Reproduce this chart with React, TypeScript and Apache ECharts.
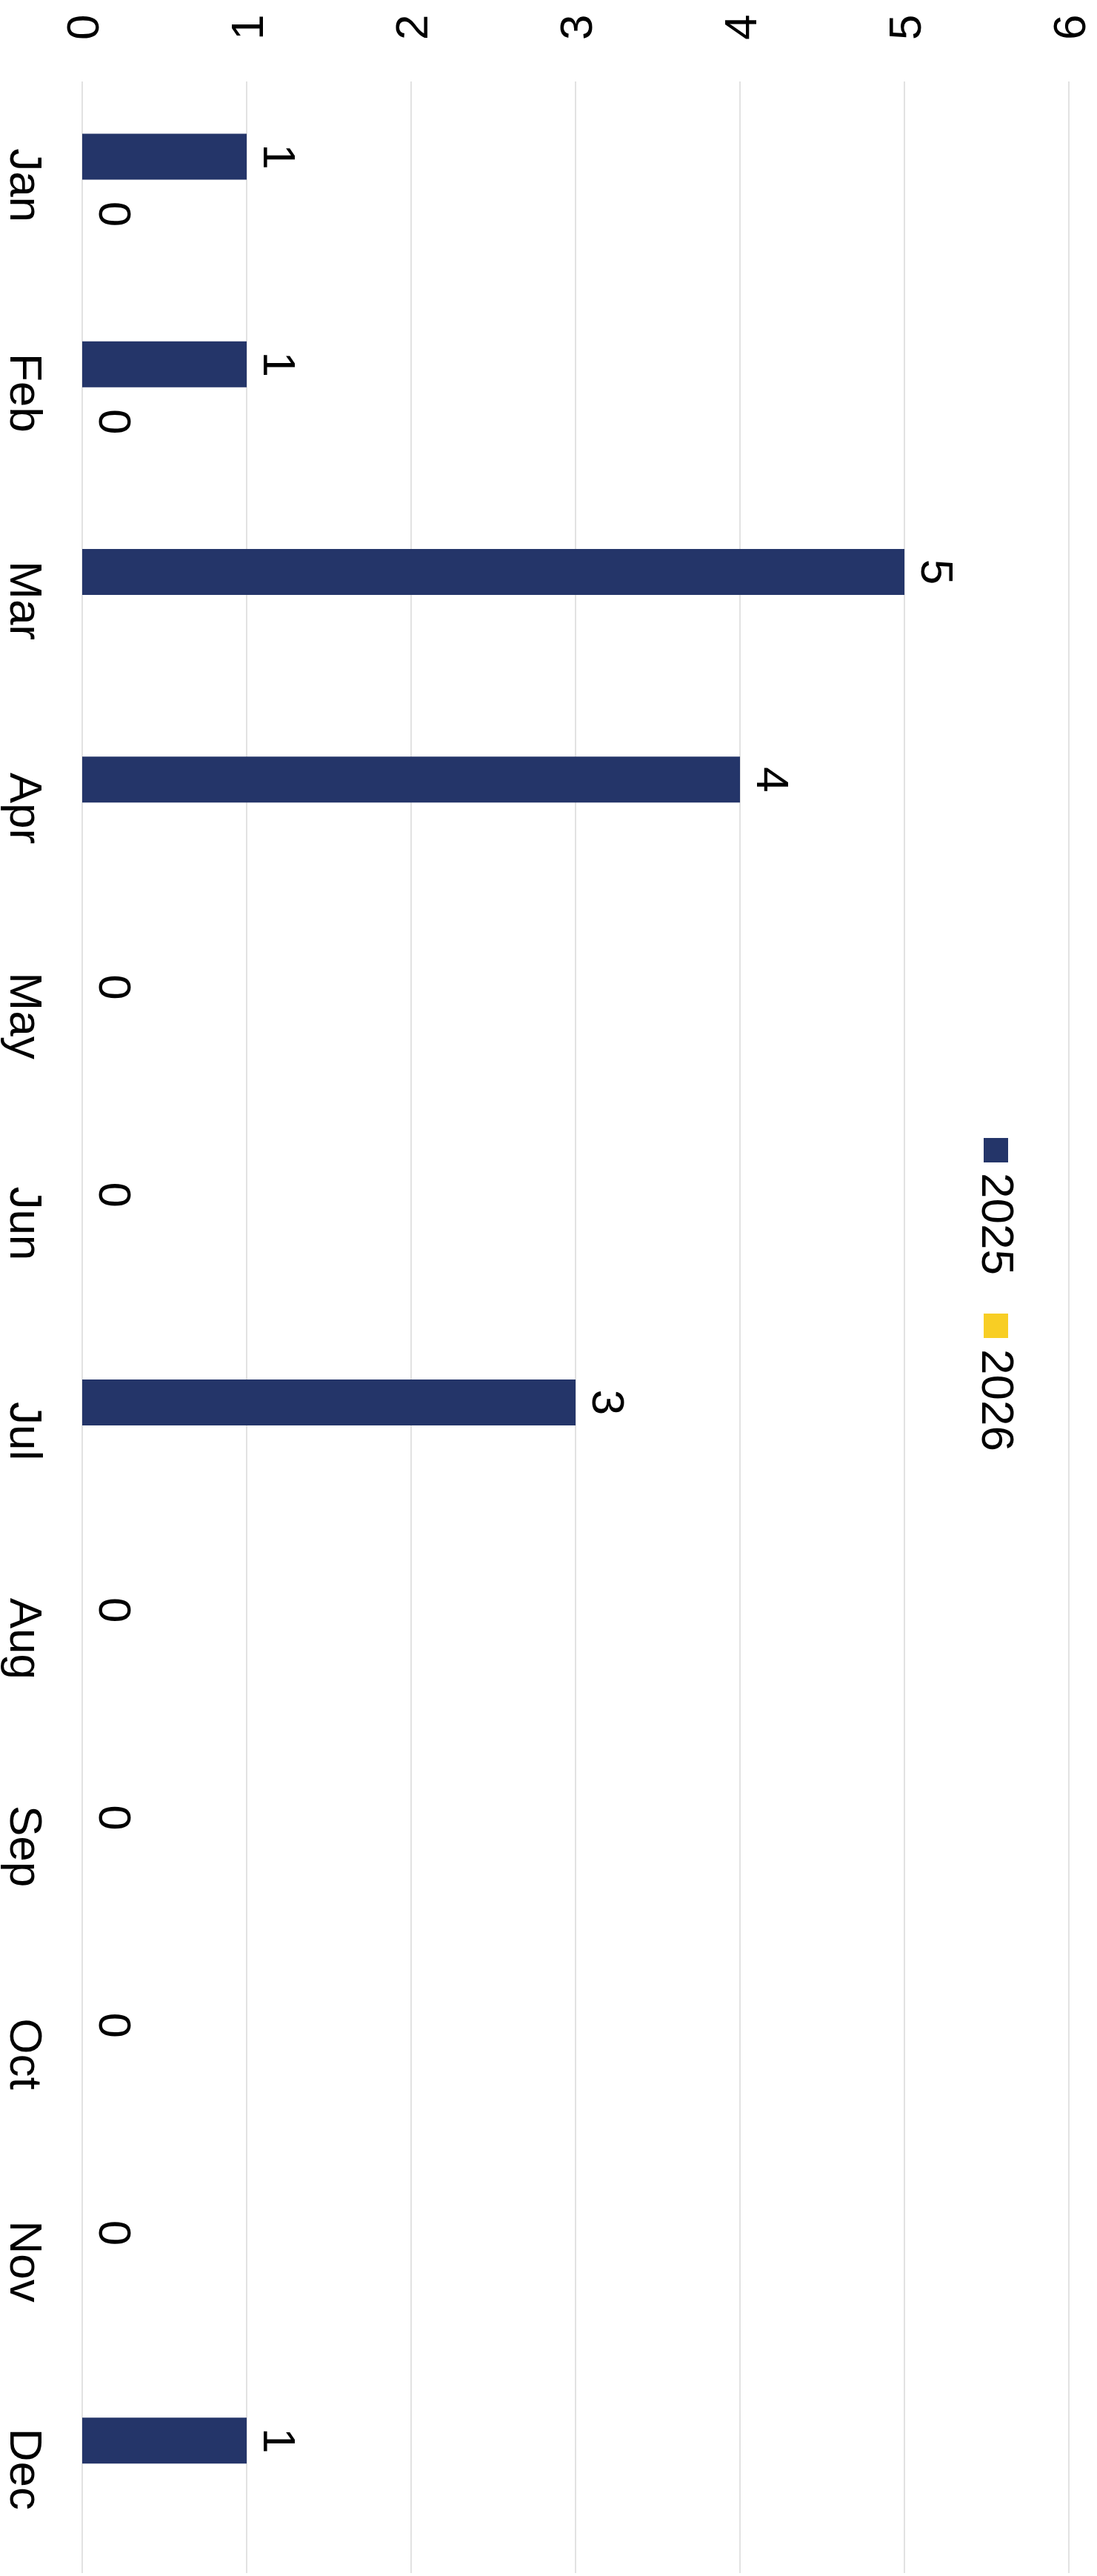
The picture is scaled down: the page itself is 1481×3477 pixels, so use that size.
import React, { useEffect, useRef } from "react";
import * as echarts from "echarts";

const months = ["Jan", "Feb", "Mar", "Apr", "May", "Jun", "Jul", "Aug", "Sep", "Oct", "Nov", "Dec"];
const seriesNames = ["2025", "2026"];
const values2025 = [1, 1, 5, 4, 0, 0, 3, 0, 0, 0, 0, 1];
const values2026 = [0, 0, null, null, null, null, null, null, null, null, null, null];
const axisMin = 0;
const axisMax = 6;
const axisInterval = 1;

const colors = ["#243569", "#F8CE24"];
const FONT = "'Liberation Sans', Arial, sans-serif";
const FS = 62;

export default function App() {
  const ref = useRef<HTMLDivElement>(null);
  useEffect(() => {
    if (!ref.current) return;
    const chart = echarts.init(ref.current, undefined, { renderer: "svg" });
    const legendMarkerY = [1536, 1773];
    const legendTextY = [1583, 1821];
    const graphics: any[] = [];
    seriesNames.forEach((name, i) => {
      graphics.push({
        type: "rect",
        shape: { x: 1328, y: legendMarkerY[i], width: 33, height: 33 },
        style: { fill: colors[i] },
      });
      graphics.push({
        type: "text",
        x: 1347,
        y: legendTextY[i],
        rotation: -Math.PI / 2,
        style: {
          text: name,
          font: `${FS}px ${FONT}`,
          fill: "#000",
          textAlign: "left",
          textVerticalAlign: "middle",
        },
      });
    });
    const labelCfg = {
      show: true,
      position: "right",
      rotate: -90,
      align: "center",
      verticalAlign: "bottom",
      distance: 13,
      color: "#000",
      fontSize: FS,
      fontFamily: FONT,
    };
    chart.setOption({
      animation: false,
      backgroundColor: "#fff",
      grid: { left: 111, right: 38, top: 110, bottom: 4, containLabel: false },
      xAxis: {
        type: "value",
        position: "top",
        min: axisMin,
        max: axisMax,
        interval: axisInterval,
        axisLine: { show: false },
        axisTick: { show: false },
        splitLine: { show: true, lineStyle: { color: "#D9D9D9", width: 1.5 } },
        axisLabel: {
          rotate: -90,
          margin: 56,
          fontSize: FS,
          fontFamily: FONT,
          color: "#000",
        },
      },
      yAxis: {
        type: "category",
        data: months,
        inverse: true,
        axisLine: { show: false },
        axisTick: { show: false },
        splitLine: { show: false },
        axisLabel: {
          rotate: -90,
          margin: 45,
          fontSize: FS,
          fontFamily: FONT,
          color: "#000",
          interval: 0,
        },
      },
      series: [
        {
          name: seriesNames[0],
          type: "bar",
          data: values2025,
          barWidth: 62,
          barGap: "25%",
          itemStyle: { color: colors[0] },
          label: labelCfg,
        },
        {
          name: seriesNames[1],
          type: "bar",
          data: values2026,
          barWidth: 62,
          barGap: "25%",
          itemStyle: { color: colors[1] },
          label: labelCfg,
        },
      ],
      graphic: graphics,
    });
    return () => chart.dispose();
  }, []);
  return (
    <div
      ref={ref}
      style={{ position: "absolute", left: 0, top: 0, width: 1481, height: 3477 }}
    />
  );
}
